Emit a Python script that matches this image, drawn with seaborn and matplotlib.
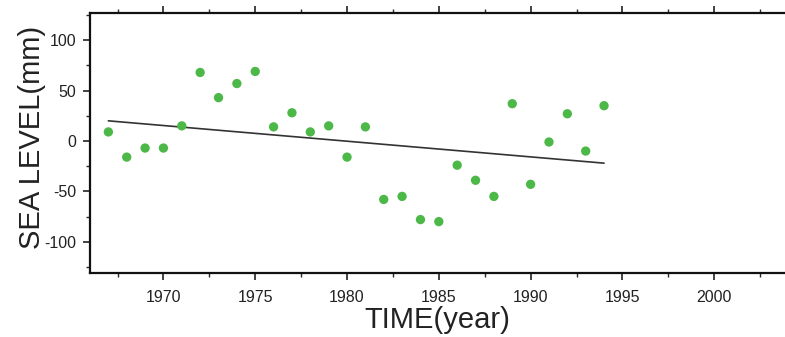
import numpy as np
import pandas as pd
import matplotlib
matplotlib.use("Agg")
import matplotlib.pyplot as plt
from matplotlib.ticker import MultipleLocator
import seaborn as sns

years = list(range(1967, 1995))
sea_level = [9, -16, -7, -7, 15, 68, 43, 57, 69, 14, 28, 9, 15, -16, 14,
             -58, -55, -78, -80, -24, -39, -55, 37, -43, -1, 27, -10, 35]
trend_years = [1967, 1994]
trend_level = [20, -22]

df = pd.DataFrame({"year": years, "level": sea_level})
trend = pd.DataFrame({"year": trend_years, "level": trend_level})

sns.set_style("ticks")
plt.rcParams["font.family"] = ["Liberation Sans", "DejaVu Sans"]
plt.rcParams["axes.unicode_minus"] = False

fig = plt.figure(figsize=(7.85, 3.37), dpi=100)
ax = fig.add_axes([90 / 785, 64 / 337, 716 / 785, 260 / 337])

sns.lineplot(data=trend, x="year", y="level", color="#333333", lw=1.2, ax=ax)
sns.scatterplot(data=df, x="year", y="level", color="#4cb848", s=45,
                edgecolor="none", ax=ax, zorder=3)

ax.set_xlim(1966, 2005)
ax.set_ylim(-131, 127)
ax.set_xticks([1970, 1975, 1980, 1985, 1990, 1995, 2000])
ax.set_yticks([-100, -50, 0, 50, 100])
ax.xaxis.set_minor_locator(MultipleLocator(2.5))
ax.yaxis.set_minor_locator(MultipleLocator(25))
ax.tick_params(axis="both", which="major", direction="out", length=5,
               width=1.2, labelsize=11.5, colors="#222222", top=True)
ax.tick_params(axis="both", which="minor", direction="out", length=3,
               width=1.0, top=True)
ax.tick_params(axis="x", pad=7)
ax.tick_params(axis="y", pad=5)
for side in ["left", "bottom", "top"]:
    ax.spines[side].set_linewidth(1.6)
    ax.spines[side].set_color("#111111")
ax.spines["right"].set_visible(False)

ax.set_xlabel("TIME(year)", fontsize=21, color="#222222")
ax.set_ylabel("SEA LEVEL(mm)", fontsize=21, color="#222222")
ax.xaxis.set_label_coords(0.485, -0.128)
ax.yaxis.set_label_coords(-0.062, 0.52)

fig.savefig("out.png", dpi=100)
